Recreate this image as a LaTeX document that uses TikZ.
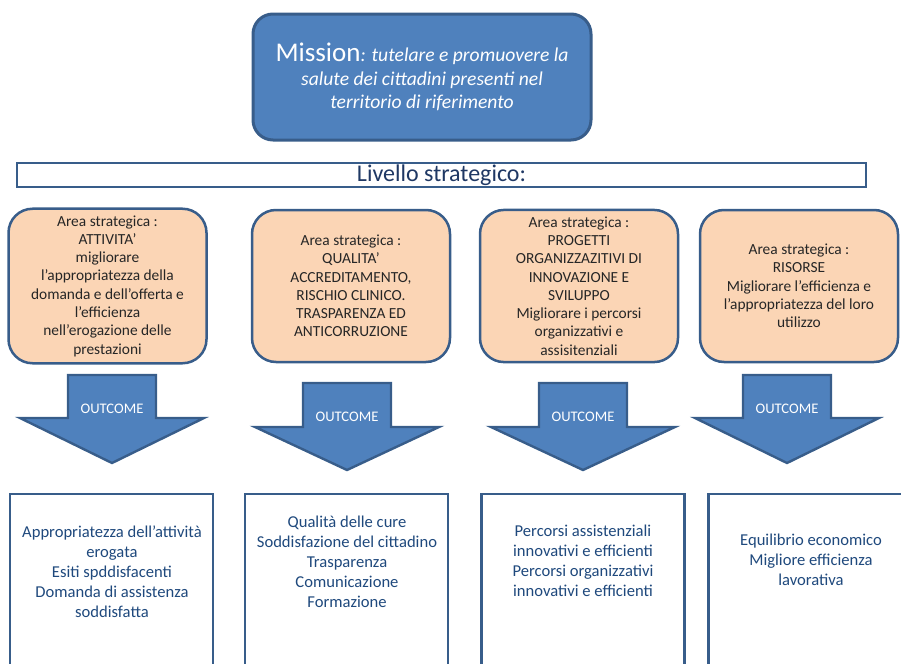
\documentclass[tikz,border=0pt]{standalone}
\usepackage{fontspec}
\setmainfont{Carlito}
\definecolor{missionblue}{HTML}{4F81BD}
\definecolor{edgeblue}{HTML}{385D8A}
\definecolor{areaorange}{HTML}{FBD5B5}
\definecolor{navytext}{HTML}{1F3864}
\definecolor{goaltext}{HTML}{1F497D}
\begin{document}
\begin{tikzpicture}[x=0.5pt,y=-0.5pt]
 \useasboundingbox (0,0) rectangle (901,664);
 \clip (0,0) rectangle (901,664);
  \node[draw=edgeblue, fill=missionblue, line width=1.5pt, rounded corners=10pt,
        minimum width=169pt, minimum height=63pt, align=center, text=white,
        font=\fontsize{9.8}{11.75}\selectfont\itshape] (mission) at (422,77)
        {{\upshape\fontsize{13.5}{14}\selectfont Mission}: tutelare e promuovere la\\
         salute dei cittadini presenti nel\\ territorio di riferimento};
  \node[draw=edgeblue, fill=white, line width=1.3pt, minimum width=424.5pt,
        minimum height=12pt, inner sep=0pt, text=navytext,
        font=\fontsize{12}{13}\selectfont] (livello) at (441.5,175) {Livello strategico:};
 \begin{scope}[every node/.style={draw=edgeblue, fill=areaorange, line width=1.25pt,
               rounded corners=12pt, minimum width=99pt, minimum height=76pt,
               align=center, text=black!85, font=\fontsize{7.7}{9.15}\selectfont}]
  \node (area1) at (107.5,286) {Area strategica :\\ ATTIVITA’\\ migliorare\\
        l’appropriatezza della\\ domanda e dell’offerta e\\ l’efficienza\\
        nell’erogazione delle\\ prestazioni};
  \node (area2) at (351,286) {Area strategica :\\ QUALITA’\\ ACCREDITAMENTO,\\
        RISCHIO CLINICO.\\ TRASPARENZA ED\\ ANTICORRUZIONE};
  \node (area3) at (579,286) {Area strategica :\\ PROGETTI\\ ORGANIZZAZITIVI DI\\
        INNOVAZIONE E\\ SVILUPPO\\ Migliorare i percorsi\\ organizzativi e\\ assisitenziali};
  \node (area4) at (799,286) {Area strategica :\\ RISORSE\\ Migliorare l’efficienza e\\
        l’appropriatezza del loro\\ utilizzo};
 \end{scope}
 \begin{scope}[draw=edgeblue, fill=missionblue, line width=1.2pt]
  \filldraw (68,375) -- (156,375) -- (156,418) -- (204,418) -- (112,463)
            -- (20,418) -- (68,418) -- cycle;
  \filldraw (303,383) -- (391,383) -- (391,427) -- (439,427) -- (347,470)
            -- (255,427) -- (303,427) -- cycle;
  \filldraw (539,383) -- (627,383) -- (627,427) -- (675,427) -- (583,470)
            -- (491,427) -- (539,427) -- cycle;
  \filldraw (743,375) -- (831,375) -- (831,418) -- (879,418) -- (787,463)
            -- (695,418) -- (743,418) -- cycle;
 \end{scope}
 \begin{scope}[every node/.style={text=white, font=\fontsize{7.3}{8}\selectfont}]
  \node (out1) at (112,409) {OUTCOME};
  \node (out2) at (347,417) {OUTCOME};
  \node (out3) at (583,417) {OUTCOME};
  \node (out4) at (787,409) {OUTCOME};
 \end{scope}
 \begin{scope}[every node/.style={draw=edgeblue, fill=white, line width=1.25pt,
               minimum width=101.5pt, minimum height=113pt, inner sep=0pt}]
  \node (goal1) at (111.5,607) {};
  \node (goal2) at (346.5,607) {};
  \node (goal3) at (583,607) {};
  \node (goal4) at (810,607) {};
 \end{scope}
 \begin{scope}[every node/.style={text=goaltext, align=center,
               font=\fontsize{8.3}{10}\selectfont}]
  \node (goal1txt) at (112,572) {Appropriatezza dell’attività\\ erogata\\
        Esiti spddisfacenti\\ Domanda di assistenza\\ soddisfatta};
  \node (goal2txt) at (347,562) {Qualità delle cure\\ Soddisfazione del cittadino\\
        Trasparenza\\ Comunicazione\\ Formazione};
  \node (goal3txt) at (583,561) {Percorsi assistenziali\\ innovativi e efficienti\\
        Percorsi organizzativi\\ innovativi e efficienti};
  \node (goal4txt) at (811,560) {Equilibrio economico\\ Migliore efficienza\\ lavorativa};
 \end{scope}
\end{tikzpicture}
\end{document}
